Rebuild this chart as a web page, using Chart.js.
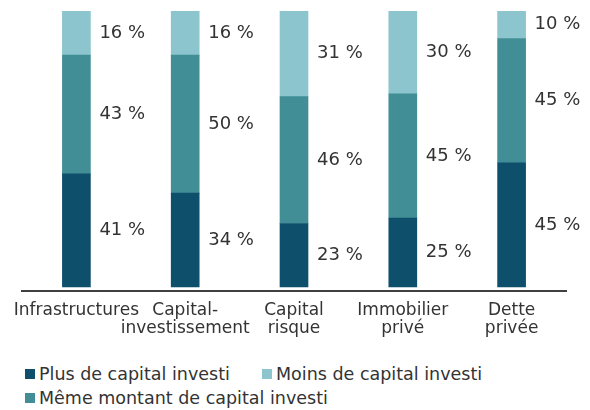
<!DOCTYPE html>
<html lang="fr">
<head>
<meta charset="utf-8">
<script src="https://cdn.jsdelivr.net/npm/chart.js@4"></script>
<style>
  html, body { margin: 0; padding: 0; background: #fff; }
  #wrap { position: relative; width: 590px; height: 410px; }
  #chart { display: block; }
  #legend {
    position: absolute; left: 25px; top: 364px;
    display: grid; grid-template-columns: 237px auto; row-gap: 4px;
    font-family: 'DejaVu Sans', sans-serif; font-size: 17.5px; color: #333;
  }
  #legend .item { display: flex; align-items: center; height: 20px; white-space: nowrap; }
  #legend .box { flex: 0 0 auto; width: 10px; height: 10px; margin-right: 4px; }
</style>
</head>
<body>
<div id="wrap">
  <canvas id="chart" width="590" height="353"></canvas>
  <div id="legend"></div>
</div>
<script>
const categories = [
  ['Infrastructures'],
  ['Capital-', 'investissement'],
  ['Capital', 'risque'],
  ['Immobilier', 'privé'],
  ['Dette', 'privée']
];
const plusValues = [41, 34, 23, 25, 45];
const memeValues = [43, 50, 46, 45, 45];
const moinsValues = [16, 16, 31, 30, 10];

const colors = { plus: '#0e4f6c', meme: '#428e96', moins: '#8cc5cd' };
const fontFamily = "'DejaVu Sans', sans-serif";

// labels next to each segment, on the right of the bar
const segmentLabels = {
  id: 'segmentLabels',
  afterDatasetsDraw(chart) {
    const ctx = chart.ctx;
    ctx.save();
    ctx.font = `18px ${fontFamily}`;
    ctx.fillStyle = '#333';
    ctx.textAlign = 'left';
    ctx.textBaseline = 'middle';
    chart.data.datasets.forEach((ds, i) => {
      const meta = chart.getDatasetMeta(i);
      meta.data.forEach((bar, j) => {
        const p = bar.getProps(['x', 'y', 'base', 'width'], true);
        ctx.fillText(`${ds.data[j]} %`, p.x + p.width / 2 + 9, (p.y + p.base) / 2);
      });
    });
    ctx.restore();
  }
};

const datasets = [
  { label: 'Plus de capital investi', data: plusValues, backgroundColor: colors.plus },
  { label: 'Même montant de capital investi', data: memeValues, backgroundColor: colors.meme },
  { label: 'Moins de capital investi', data: moinsValues, backgroundColor: colors.moins }
];

new Chart(document.getElementById('chart'), {
  type: 'bar',
  data: {
    labels: categories,
    datasets: datasets.map(d => ({ ...d, barThickness: 28, borderWidth: 0 }))
  },
  options: {
    responsive: false,
    animation: false,
    layout: { padding: { left: 22, right: 24, top: 11, bottom: 4 } },
    plugins: { legend: { display: false }, tooltip: { enabled: false } },
    scales: {
      x: {
        stacked: true,
        grid: { display: false, drawTicks: false },
        border: { display: true, color: '#404040', width: 2 },
        ticks: {
          autoSkip: false, maxRotation: 0, padding: 11, color: '#333',
          font: { family: fontFamily, size: 17, lineHeight: 1.06 }
        }
      },
      y: {
        stacked: true, display: false, min: -1.45, max: 100
      }
    }
  },
  plugins: [segmentLabels]
});

// legend: Plus / Moins on the first row, Même on the second
const legendOrder = [0, 2, 1];
const legendEl = document.getElementById('legend');
for (const i of legendOrder) {
  const item = document.createElement('div');
  item.className = 'item';
  item.innerHTML = `<span class="box" style="background:${datasets[i].backgroundColor}"></span>${datasets[i].label}`;
  legendEl.appendChild(item);
}
</script>
</body>
</html>
